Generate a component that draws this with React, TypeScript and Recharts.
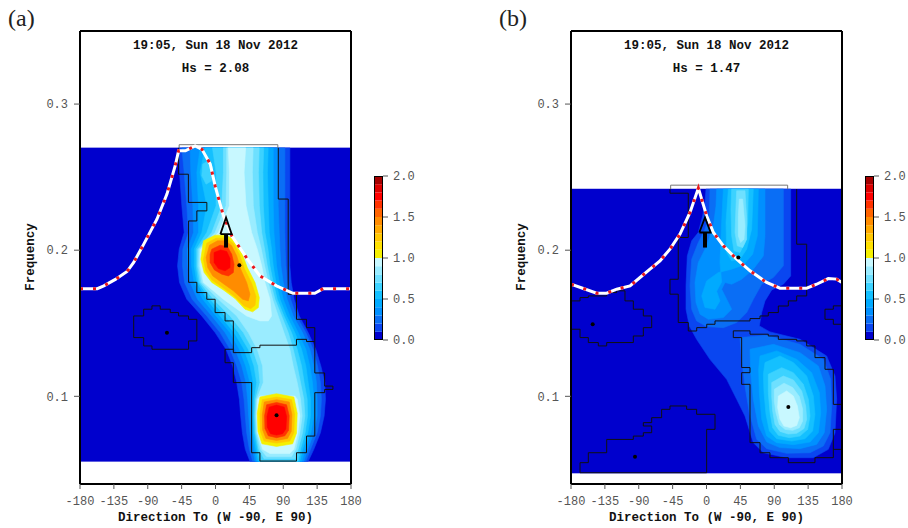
import {
  ComposedChart,
  Line,
  Scatter,
  XAxis,
  YAxis,
  BarChart,
  Bar,
} from "recharts";

type Pt = { dir: number; f: number | null };
type Shape = { lv: number; pts: Pt[] };

const mono = '"Liberation Mono", "DejaVu Sans Mono", monospace';

const dirTicks = [-180, -135, -90, -45, 0, 45, 90, 135, 180];
const freqTicks = [0.1, 0.2, 0.3];
const levelBounds = [
  0, 0.1, 0.2, 0.3, 0.4, 0.5, 0.6, 0.7, 0.8, 0.9, 1.0, 1.1, 1.2, 1.3, 1.4,
  1.5, 1.6, 1.7, 1.8, 1.9, 2.0,
];
const cbTicks = [0, 0.5, 1, 1.5, 2];
const levelColors = [
  "#0000cd", "#0a46f0", "#0a6ef5", "#0090ff", "#00aaff", "#14c0ff",
  "#3cd2ff", "#6ee0ff", "#9aecff", "#c8f8ff", "#f5f000", "#ffe100",
  "#ffc800", "#ffaa00", "#ff8c00", "#ff6400", "#ff3200", "#ff0000",
  "#dc0000", "#a50000",
];

// contour bands: [freq, dir left, dir right], top to bottom
function band(rows: number[][]): Pt[] {
  const left = rows.map((r) => ({ dir: r[1], f: r[0] }));
  const right = rows
    .slice()
    .reverse()
    .map((r) => ({ dir: r[2], f: r[0] }));
  return [...left, ...right];
}
function ring(list: number[][]): Pt[] {
  return list.map((p) => ({ dir: p[0], f: p[1] }));
}

// ---------------- panel (a) ----------------
const bgA = [[0.27, -180, 180], [0.0555, -180, 180]];
const aLv1 = [
  [0.27, -49.1, 98.8], [0.2532, -47.8, 98.8], [0.2304, -44.7, 98.8], [0.2121, -41.6, 98.8],
  [0.2007, -48.2, 98.8], [0.1893, -50.4, 98.8], [0.1779, -47.8, 100.6], [0.1664, -38.1, 104.5],
  [0.155, -18.2, 111.2], [0.1436, -0.5, 123.1], [0.1322, 14, 133.2], [0.1208, 22.9, 139.9],
  [0.1094, 28.2, 145.2], [0.098, 31.7, 146.1], [0.0865, 33.5, 144.3], [0.0751, 35.7, 139.4],
  [0.0637, 39.6, 130.6], [0.0555, 45.8, 123.1],
];
const aLv2 = [
  [0.27, -44.7, 92.2], [0.2532, -41.6, 92.2], [0.2304, -38.1, 92.2], [0.2121, -35.9, 92.2],
  [0.2007, -43.4, 92.6], [0.1893, -43.8, 93.5], [0.1779, -41.1, 95.3], [0.1664, -31, 99.7],
  [0.155, -11.6, 107.6], [0.1436, 6.1, 120], [0.1322, 19.3, 129.7], [0.1208, 28.2, 135.5],
  [0.1094, 34.8, 139.4], [0.098, 37.9, 140.7], [0.0865, 39.6, 139.4], [0.0751, 41.4, 135],
  [0.0637, 45, 126.2], [0.0555, 49.4, 120],
];
const aLv3 = [
  [0.27, -33.7, 83.3], [0.2532, -32.8, 83.3], [0.2304, -30.1, 83.3], [0.2121, -29.2, 84.7],
  [0.2007, -37.2, 85.6], [0.1893, -36.7, 86.9], [0.1779, -33.7, 90], [0.1664, -23.9, 95.3],
  [0.155, -4.9, 103.2], [0.1436, 12.7, 115.6], [0.1322, 25.9, 125.3], [0.1208, 34.8, 130.6],
  [0.1094, 40.5, 134.1], [0.098, 42.7, 135], [0.0865, 44.1, 135], [0.0751, 45.8, 130.6],
  [0.0637, 48.9, 122.7], [0.0555, 52.5, 117.3],
];
const aLv4 = [
  [0.27, -20.4, 76.7], [0.2532, -24.8, 76.7], [0.2304, -22.6, 76.7], [0.2121, -22.6, 77.6],
  [0.2007, -32.3, 79.4], [0.1893, -31.9, 81.1], [0.1779, -28.3, 84.7], [0.1664, -16.9, 90],
  [0.155, 0.8, 98.8], [0.1436, 19.3, 109.8], [0.1322, 31.7, 120], [0.1208, 40.1, 125.3],
  [0.1094, 45.8, 128.8], [0.098, 46.7, 130.6], [0.0865, 47.2, 130.6], [0.0751, 48.5, 126.6],
  [0.0637, 51.6, 119.1], [0.0555, 54.7, 114.7],
];
const aLv5 = [
  [0.27, -14, 70], [0.2532, -20.4, 69], [0.2304, -11.6, 70.1], [0.2121, -18.2, 71.4],
  [0.2007, -28.3, 74.5], [0.1893, -28.3, 76.7], [0.1779, -24.8, 80.3], [0.1664, -11.6, 85.6],
  [0.155, 6.1, 94.4], [0.1436, 24.6, 105.4], [0.1322, 37.9, 114.3], [0.1208, 45.8, 120],
  [0.1094, 50.2, 123.1], [0.098, 49.4, 126.2], [0.0865, 49.4, 126.2], [0.0751, 50.2, 122.7],
  [0.0637, 53.8, 115.6], [0.0555, 56.9, 112],
];
const aLv6 = [
  [0.27, -4, 64], [0.2532, 0.8, 63], [0.2304, 0.8, 63.5], [0.2121, -11.6, 65.7],
  [0.2007, -25.7, 69.7], [0.1893, -25.7, 72.3], [0.1779, -22.6, 76.7], [0.1664, -7.2, 82],
  [0.155, 12.7, 90.9], [0.1436, 30.4, 101], [0.1322, 43.6, 108.5], [0.1208, 51.1, 114.3],
  [0.1094, 54.7, 117.8], [0.098, 51.6, 121.8], [0.0865, 51.1, 122.2], [0.0751, 52, 119.1],
  [0.0637, 56, 112.9], [0.0555, 59.1, 109.8],
];
const aSpot6 = [
  [-16.9, 0.2589], [-9.4, 0.2612], [-3.6, 0.2566], [-4.9, 0.2475], [-12.5, 0.2452], [-18.2, 0.2509],
];
const aLv7 = [
  [0.27, 10.5, 58], [0.2532, 10.5, 57], [0.2304, 8.3, 58.2], [0.2121, -4.9, 61.3],
  [0.2007, -23.5, 65.2], [0.1893, -23.9, 68.8], [0.1779, -20.4, 73.2], [0.1664, -2.7, 78.9],
  [0.155, 19.3, 87.8], [0.1436, 37, 96.6], [0.1322, 49.4, 103.2], [0.1208, 56.9, 108.5],
  [0.1094, 59.1, 112.9], [0.098, 53.3, 117.3], [0.0865, 52.5, 118.7], [0.0751, 53.3, 115.6],
  [0.0637, 57.7, 109.8], [0.0573, 64.4, 105.9],
];
const aLv8 = [
  [0.27, 14.9, 50], [0.2532, 14.9, 49], [0.2304, 14, 50.2], [0.2121, -0.5, 55.5],
  [0.2007, -21.7, 60.8], [0.1893, -22.2, 65.2], [0.1779, -18.2, 70.1], [0.1664, 3.9, 75.8],
  [0.155, 28.2, 83.3], [0.1436, 43.6, 90.9], [0.1322, 55.5, 98.8], [0.1208, 62.6, 103.2],
  [0.1094, 63.5, 108.5], [0.098, 54.7, 112.9], [0.0865, 53.8, 115.1], [0.0751, 54.7, 112],
  [0.0637, 60, 106.7], [0.0589, 67.9, 101],
];
const aLv9Upper = [
  [0.27, 17, 40], [0.2532, 18.5, 38], [0.2304, 18.5, 40.5], [0.2121, 3.9, 48],
  [0.2007, -19.9, 55.5], [0.1893, -20.4, 61.3], [0.1779, -16, 65.7], [0.1664, 10.5, 72.3],
  [0.155, 41.4, 74.5], [0.1516, 59.1, 70.1],
];
const aLv9Lower = [
  [0.1002, 59.1, 105.4], [0.098, 56, 108.5], [0.0865, 54.7, 112], [0.0751, 56, 109.4],
  [0.0637, 62.6, 104.1], [0.0609, 72.3, 98.8],
];
// upper spectral peak, rings [dir, freq]
const aPk1Lv10 = [
  [-16, 0.2064], [-0.5, 0.2103], [14.9, 0.2103], [25.9, 0.2064], [34.8, 0.1984], [42.3, 0.1881],
  [52.5, 0.1779], [58.2, 0.1676], [56.9, 0.1607], [49.4, 0.1578], [39.2, 0.1596], [25.9, 0.1669],
  [10.5, 0.1728], [-4.9, 0.1779], [-15.1, 0.1847], [-19.5, 0.1938],
];
const aPk1Lv12 = [
  [-11.6, 0.2048], [0.8, 0.2082], [14, 0.2082], [23.7, 0.2046], [31.7, 0.1973], [38.3, 0.1874],
  [48, 0.1774], [53.8, 0.1683], [52.5, 0.1623], [46.7, 0.16], [37.9, 0.1619], [24.6, 0.1687],
  [9.6, 0.1744], [-4.9, 0.1797], [-12.9, 0.1858], [-16, 0.1938],
];
const aPk1Lv14 = [
  [-8, 0.2034], [2.6, 0.2064], [13.2, 0.2064], [21.5, 0.203], [28.2, 0.1961], [33.5, 0.187],
  [41.4, 0.1779], [45.8, 0.1699], [43.6, 0.1653], [36.1, 0.1664], [23.7, 0.1722], [9.6, 0.1774],
  [-3.6, 0.1824], [-10.3, 0.1881], [-12.5, 0.195],
];
const aPk1Lv16 = [
  [-4.9, 0.2007], [6.1, 0.2034], [15.8, 0.2025], [21.5, 0.1973], [24.6, 0.1904], [23.7, 0.1847],
  [17.1, 0.1824], [8.3, 0.1836], [-1.4, 0.1865], [-7.2, 0.1916], [-7.2, 0.1973],
];
const aPk1Lv17 = [
  [-1.9, 0.1984], [7, 0.2002], [14.9, 0.1991], [19.3, 0.1943], [19.3, 0.1881], [12.7, 0.1859],
  [3.9, 0.1874], [-1.9, 0.1916],
];
// lower spectral peak
const aPk2Lv10 = [
  [59.1, 0.0995], [81.1, 0.1018], [104.1, 0.0995], [108.5, 0.0885], [107.6, 0.0748], [102.4, 0.0675],
  [81.1, 0.0657], [61.7, 0.0675], [56.4, 0.076], [55.5, 0.0885],
];
const aPk2Lv12 = [
  [62.2, 0.0977], [81.1, 0.0995], [101, 0.0977], [105, 0.088], [104.1, 0.0753], [98.8, 0.0694],
  [81.1, 0.068], [64.4, 0.0694], [59.5, 0.0764], [59.1, 0.088],
];
const aPk2Lv14 = [
  [64.8, 0.0961], [81.1, 0.0977], [97.9, 0.0961], [101.5, 0.0874], [100.6, 0.076], [95.7, 0.0712],
  [81.1, 0.0698], [67, 0.0712], [62.6, 0.0771], [62.2, 0.0874],
];
const aPk2Lv16 = [
  [67.9, 0.0942], [81.1, 0.0958], [94.4, 0.0942], [97.9, 0.0867], [97, 0.0767], [92.2, 0.073],
  [81.1, 0.0717], [70.1, 0.073], [65.7, 0.078], [65.2, 0.0867],
];
const aPk2Lv17 = [
  [71.4, 0.0926], [81.1, 0.094], [91.3, 0.0926], [94.4, 0.0862], [93.5, 0.0776], [89.1, 0.0744],
  [81.1, 0.0735], [73.2, 0.0744], [68.8, 0.0789], [68.4, 0.0862],
];

const shapesA: Shape[] = [
  { lv: 0, pts: band(bgA) },
  { lv: 1, pts: band(aLv1) },
  { lv: 2, pts: band(aLv2) },
  { lv: 3, pts: band(aLv3) },
  { lv: 4, pts: band(aLv4) },
  { lv: 5, pts: band(aLv5) },
  { lv: 6, pts: band(aLv6) },
  { lv: 6, pts: ring(aSpot6) },
  { lv: 7, pts: band(aLv7) },
  { lv: 8, pts: band(aLv8) },
  { lv: 9, pts: band(aLv9Upper) },
  { lv: 9, pts: band(aLv9Lower) },
  { lv: 10, pts: ring(aPk1Lv10) },
  { lv: 12, pts: ring(aPk1Lv12) },
  { lv: 14, pts: ring(aPk1Lv14) },
  { lv: 16, pts: ring(aPk1Lv16) },
  { lv: 17, pts: ring(aPk1Lv17) },
  { lv: 10, pts: ring(aPk2Lv10) },
  { lv: 12, pts: ring(aPk2Lv12) },
  { lv: 14, pts: ring(aPk2Lv14) },
  { lv: 16, pts: ring(aPk2Lv16) },
  { lv: 17, pts: ring(aPk2Lv17) },
];

const boxA: Pt[] = [
  { dir: -48.3, f: 0.27 }, { dir: -48.3, f: 0.2722 },
  { dir: 82.8, f: 0.2722 }, { dir: 82.8, f: 0.27 },
];
const windSeaA: Pt[] = ring([
  [-180, 0.1737], [-157, 0.1737], [-148.4, 0.1756], [-133, 0.18], [-117.5, 0.1854],
  [-108.7, 0.1916], [-95.5, 0.204], [-77.8, 0.2212], [-64.5, 0.2384], [-53.5, 0.2578],
  [-49, 0.268], [-40, 0.268], [-27, 0.2714], [-18, 0.269], [-7, 0.259], [-0.5, 0.244],
  [10.5, 0.2235], [21.6, 0.2098], [41.5, 0.1946], [59, 0.1824], [81, 0.1756],
  [103, 0.1705], [131.9, 0.1705], [143, 0.1737], [180, 0.1737],
]);
const partA1: Pt[] = ring([
  [-49, 0.27], [-49, 0.252], [-36, 0.252], [-36, 0.2327], [-11.5, 0.2327], [-11.5, 0.2269],
  [-24.8, 0.2269], [-24.8, 0.22], [-35.8, 0.22], [-35.8, 0.178], [-24.8, 0.178], [-24.8, 0.171],
  [-11.6, 0.171], [-11.6, 0.1664], [-0.5, 0.1664], [-0.5, 0.1573], [12.7, 0.1573], [12.7, 0.1516],
  [23.7, 0.1516], [23.7, 0.1299], [48, 0.1299], [48, 0.1333], [59, 0.1333], [59, 0.135],
  [107.6, 0.135], [107.6, 0.139], [120.9, 0.139], [120.9, 0.1375], [131.9, 0.1375], [131.9, 0.147],
  [120.9, 0.147], [120.9, 0.1527], [107.6, 0.1527], [107.6, 0.1698], [96.6, 0.1698], [96.6, 0.235],
  [83.4, 0.235], [83.4, 0.27],
]);
const partA2: Pt[] = ring([
  [23.7, 0.1322], [12.7, 0.1322], [12.7, 0.123], [23.7, 0.123], [23.7, 0.1094], [48, 0.1094],
  [48, 0.0614], [59, 0.0614], [59, 0.0557], [107.6, 0.0557], [107.6, 0.0614], [120.9, 0.0614],
  [120.9, 0.0728], [131.9, 0.0728], [131.9, 0.1025], [145, 0.1025], [145, 0.1047], [156, 0.1047],
  [156, 0.107], [145, 0.107], [145, 0.116], [131.9, 0.116], [131.9, 0.1375],
]);
const partA3: Pt[] = ring([
  [-108.7, 0.155], [-95.4, 0.155], [-95.4, 0.1596], [-84.4, 0.1596], [-84.4, 0.1619], [-73.4, 0.1619],
  [-73.4, 0.1596], [-60.1, 0.1596], [-60.1, 0.1573], [-49.1, 0.1573], [-49.1, 0.155], [-35.8, 0.155],
  [-35.8, 0.1527], [-24.8, 0.1527], [-24.8, 0.1379], [-35.8, 0.1379], [-35.8, 0.1322], [-84.4, 0.1322],
  [-84.4, 0.1345], [-95.4, 0.1345], [-95.4, 0.1402], [-108.7, 0.1402], [-108.7, 0.155],
]);
const peaksA: Pt[] = ring([[31.7, 0.1897], [81.1, 0.087], [-64.5, 0.1435]]);
const shaftA: Pt[] = ring([[14, 0.2018], [14, 0.211]]);
const headA: Pt[] = ring([[6.5, 0.211], [14, 0.2224], [21.5, 0.211], [6.5, 0.211]]);

// ---------------- panel (b) ----------------
const bgB = [[0.2418, -180, 180], [0.0475, -180, 180]];
const bLv1 = [
  [-0.7, 0.2418], [111.8, 0.2418], [111.8, 0.1824], [102.1, 0.1767], [86.6, 0.1728], [77.7, 0.1653],
  [73.3, 0.1573], [70.2, 0.1482], [84.3, 0.1441], [124.2, 0.139], [159.6, 0.1276], [170.7, 0.1139],
  [172.9, 0.098], [170.7, 0.0751], [161.8, 0.0637], [141.9, 0.058], [106.5, 0.058], [75.5, 0.0614],
  [62.2, 0.0683], [51.1, 0.0866], [40.1, 0.098], [26.8, 0.1116], [4.6, 0.1253], [-13.1, 0.139],
  [-22.8, 0.1482], [-27.2, 0.1596], [-27.2, 0.1756], [-25.5, 0.1961], [-19.7, 0.2064],
  [-10.9, 0.2121], [-5.1, 0.2235], [-2, 0.2326],
];
const bLv2Upper = [
  [4.6, 0.2418], [102.1, 0.2418], [102.1, 0.1893], [88.8, 0.1813], [73.3, 0.1767], [62.2, 0.1664],
  [53.4, 0.1573], [40.1, 0.1505], [22.4, 0.147], [0.2, 0.1477], [-13.1, 0.1516], [-19.7, 0.1596],
  [-21.9, 0.1756], [-19.7, 0.1938], [-10.9, 0.2052], [-2, 0.2144], [3.8, 0.2235],
];
const bLv3Upper = [
  [13.5, 0.2418], [77.7, 0.2418], [77.7, 0.2098], [75.5, 0.1961], [62.2, 0.187], [46.7, 0.1801],
  [33.4, 0.1767], [24.6, 0.1779], [20.1, 0.1733], [26.8, 0.1664], [33.4, 0.1596], [22.4, 0.1539],
  [2.4, 0.1527], [-8.6, 0.1562], [-14, 0.1642], [-15.3, 0.1779], [-10.9, 0.1916], [0.2, 0.203],
  [9.1, 0.2167], [12.6, 0.2303],
];
const bLv4Upper = [
  [22.4, 0.2418], [68.9, 0.2418], [67.5, 0.2098], [61.3, 0.1973], [48.9, 0.1898], [33.4, 0.187],
  [15.7, 0.1847], [0.2, 0.179], [-6.4, 0.1687], [-2, 0.1608], [11.3, 0.1596], [17.9, 0.1653],
  [13.5, 0.1719], [20.1, 0.1783], [17.9, 0.1916], [20.1, 0.2189],
];
const bLv5Upper = [
  [29, 0.2418], [62.2, 0.2418], [60, 0.2144], [53.4, 0.2007], [44.5, 0.1938], [33.4, 0.1927],
  [26.8, 0.1984], [25.9, 0.2189],
];
const bLv6Upper = [
  [33.4, 0.2418], [55.6, 0.2418], [54.7, 0.2189], [51.1, 0.2052], [44.5, 0.1984], [36.5, 0.1996],
  [33.4, 0.2098], [32.5, 0.2281],
];
const bLv7Upper = [
  [40.1, 0.2407], [51.1, 0.2407], [53.4, 0.2212], [53.4, 0.2075], [48, 0.2018], [40.9, 0.203],
  [37.9, 0.2121], [39.2, 0.2303],
];
const bLv8Upper = [
  [43.6, 0.235], [48, 0.235], [51.1, 0.2167], [49.8, 0.2075], [45.4, 0.2052], [42.3, 0.2098],
  [42.3, 0.2235],
];
const bLv2Lower = [
  [44.5, 0.1402], [79.9, 0.1418], [124.2, 0.1356], [155.2, 0.1253], [164.9, 0.1117], [166.3, 0.0934],
  [164.1, 0.0751], [155.2, 0.066], [137.5, 0.0614], [106.5, 0.061], [79.9, 0.0642], [66.6, 0.0706],
  [56.9, 0.0888], [51.1, 0.1071], [46.7, 0.1253],
];
const bLv3Lower = [
  [57.8, 0.1322], [88.8, 0.1356], [124.2, 0.1299], [148.6, 0.1208], [157.4, 0.1071], [159.6, 0.0911],
  [156.5, 0.0751], [146.3, 0.0671], [124.2, 0.0642], [97.6, 0.0649], [79.9, 0.0687], [68.9, 0.0797],
  [62.2, 0.098], [58.7, 0.1162],
];
const bLv4Lower = [
  [71.1, 0.1276], [93.2, 0.1311], [119.8, 0.1253], [139.7, 0.1162], [149.9, 0.1025], [151.7, 0.0888],
  [148.6, 0.0751], [137.5, 0.0687], [115.4, 0.0669], [93.2, 0.0683], [79.9, 0.0728], [73.3, 0.0843],
  [70.2, 0.1025], [69.3, 0.1185],
];
const bLv5Lower = [
  [77.7, 0.1231], [97.6, 0.1276], [115.4, 0.1231], [133.1, 0.1139], [141.9, 0.1002], [144.1, 0.0877],
  [141, 0.0763], [130.9, 0.071], [113.1, 0.0694], [93.2, 0.071], [83.5, 0.0763], [79, 0.0877],
  [76.4, 0.1025], [75.5, 0.1151],
];
const bLv6Lower = [
  [82.1, 0.1151], [99.9, 0.1196], [115.4, 0.1162], [128.6, 0.1082], [135.3, 0.098], [137.5, 0.0865],
  [134.4, 0.0774], [124.2, 0.0728], [110, 0.0717], [95.4, 0.0733], [87.9, 0.0785], [84.4, 0.0888],
  [82.1, 0.1025],
];
const bLv7Lower = [
  [86.6, 0.1094], [102.1, 0.1139], [115.4, 0.1112], [126.4, 0.1037], [131.7, 0.0934], [133.1, 0.0843],
  [129.5, 0.0779], [119.8, 0.0747], [108.7, 0.0742], [97.6, 0.076], [91, 0.0808], [87.9, 0.09],
  [86.6, 0.1002],
];
const bLv8Lower = [
  [90.1, 0.1048], [102.9, 0.109], [114.5, 0.106], [123.3, 0.0998], [127.7, 0.0911], [127.7, 0.0831],
  [123.3, 0.0785], [114.5, 0.0767], [104.3, 0.0774], [96.7, 0.0808], [92.3, 0.0888], [90.1, 0.0968],
];
const bLv9Lower = [
  [95.4, 0.1002], [106.5, 0.1037], [115.4, 0.1002], [120.7, 0.0934], [123.3, 0.0854], [119.8, 0.0801],
  [111.8, 0.0785], [102.9, 0.0797], [97.6, 0.0843], [94.5, 0.0923],
];

const shapesB: Shape[] = [
  { lv: 0, pts: band(bgB) },
  { lv: 1, pts: ring(bLv1) },
  { lv: 2, pts: ring(bLv2Upper) },
  { lv: 3, pts: ring(bLv3Upper) },
  { lv: 4, pts: ring(bLv4Upper) },
  { lv: 5, pts: ring(bLv5Upper) },
  { lv: 6, pts: ring(bLv6Upper) },
  { lv: 7, pts: ring(bLv7Upper) },
  { lv: 8, pts: ring(bLv8Upper) },
  { lv: 2, pts: ring(bLv2Lower) },
  { lv: 3, pts: ring(bLv3Lower) },
  { lv: 4, pts: ring(bLv4Lower) },
  { lv: 5, pts: ring(bLv5Lower) },
  { lv: 6, pts: ring(bLv6Lower) },
  { lv: 7, pts: ring(bLv7Lower) },
  { lv: 8, pts: ring(bLv8Lower) },
  { lv: 9, pts: ring(bLv9Lower) },
];

const boxB: Pt[] = ring([[-47.6, 0.2418], [-47.6, 0.2445], [107.8, 0.2445], [107.8, 0.2418]]);
const windSeaB: Pt[] = ring([
  [-180, 0.1767], [-163.6, 0.1738], [-145.9, 0.1706], [-132.6, 0.1706], [-119.3, 0.1733],
  [-101.6, 0.1756], [-88.3, 0.1813], [-75.1, 0.187], [-61.8, 0.1927], [-48.5, 0.2007],
  [-35.2, 0.211], [-21.9, 0.2258], [-10.8, 0.2425], [0.2, 0.2235], [9.1, 0.2121], [22.4, 0.203],
  [40.1, 0.1938], [57.8, 0.1859], [79.9, 0.1779], [97.6, 0.174], [133.1, 0.174], [146.3, 0.1767],
  [161.8, 0.1806], [172.9, 0.1802], [180, 0.1779],
]);
const partB1: Pt[] = ring([
  [-48.5, 0.2418], [-48.5, 0.239], [-24.2, 0.239], [-24.2, 0.2087], [-37.5, 0.2087], [-37.5, 0.1801],
  [-48.5, 0.1801], [-48.5, 0.1699], [-37.5, 0.1699], [-37.5, 0.1505], [-24.2, 0.1505], [-24.2, 0.1447],
  [-13, 0.1447], [-13, 0.147], [0.3, 0.147], [0.3, 0.1493], [11.3, 0.1493], [11.3, 0.1516],
  [57.8, 0.1516], [57.8, 0.1532], [71.1, 0.1532], [71.1, 0.155], [82.1, 0.155], [82.1, 0.1573],
  [95.4, 0.1573], [95.4, 0.1618], [108.7, 0.1618], [108.7, 0.1653], [119.8, 0.1653], [119.8, 0.1687],
  [133.1, 0.1687], [133.1, 0.2041], [119.8, 0.2041], [119.8, 0.2418],
]);
const partB2: Pt[] = ring([
  [180, 0.0945], [168.5, 0.0945], [168.5, 0.1185], [157.4, 0.1185], [157.4, 0.1265], [144.1, 0.1265],
  [144.1, 0.1345], [133.1, 0.1345], [133.1, 0.1379], [119.8, 0.1379], [119.8, 0.139], [95.4, 0.139],
  [95.4, 0.1413], [82.1, 0.1413], [82.1, 0.1425], [57.8, 0.1425], [57.8, 0.1448], [35.6, 0.1448],
  [35.6, 0.1402], [46.7, 0.1402], [46.7, 0.1197], [57.8, 0.1197], [57.8, 0.1162], [46.7, 0.1162],
  [46.7, 0.1082], [57.8, 0.1082], [57.8, 0.0683], [71.1, 0.0683], [71.1, 0.0614], [84.3, 0.0614],
  [84.3, 0.058], [108.7, 0.058], [108.7, 0.0546], [144.1, 0.0546], [144.1, 0.058], [168.5, 0.058],
  [168.5, 0.0637], [180, 0.0637],
]);
const partB3: Pt[] = ring([[180, 0.0774], [168.5, 0.0774], [168.5, 0.0637]]);
const partB4: Pt[] = ring([
  [-180, 0.1653], [-168, 0.1653], [-168, 0.1676], [-157, 0.1676], [-157, 0.1687], [-132.6, 0.1687],
  [-132.6, 0.171], [-119.3, 0.171], [-119.3, 0.1722], [-108.3, 0.1722], [-108.3, 0.1653], [-97.2, 0.1653],
  [-97.2, 0.1596], [-83.9, 0.1596], [-83.9, 0.155], [-72.8, 0.155], [-72.8, 0.147], [-83.9, 0.147],
  [-83.9, 0.1413], [-97.2, 0.1413], [-97.2, 0.1368], [-132.6, 0.1368], [-132.6, 0.1345], [-143.7, 0.1345],
  [-143.7, 0.1368], [-157, 0.1368], [-157, 0.1402], [-168, 0.1402], [-168, 0.1459], [-180, 0.1459],
]);
const partB5: Pt[] = ring([
  [180, 0.1619], [168.5, 0.1619], [168.5, 0.1596], [157.4, 0.1596], [157.4, 0.1527], [168.5, 0.1527],
  [168.5, 0.1493], [180, 0.1493],
]);
const partB6: Pt[] = ring([
  [-168, 0.0477], [-168, 0.0546], [-157, 0.0546], [-157, 0.0614], [-132.6, 0.0614], [-132.6, 0.0705],
  [-97.2, 0.0705], [-97.2, 0.0728], [-83.9, 0.0728], [-83.9, 0.0751], [-72.8, 0.0751], [-72.8, 0.0797],
  [-83.9, 0.0797], [-83.9, 0.082], [-72.8, 0.082], [-72.8, 0.0854], [-59.6, 0.0854], [-59.6, 0.0911],
  [-48.5, 0.0911], [-48.5, 0.0934], [-26.4, 0.0934], [-26.4, 0.0911], [-13.1, 0.0911], [-13.1, 0.0877],
  [11.3, 0.0877], [11.3, 0.0774], [0.2, 0.0774], [0.2, 0.0477], [-168, 0.0477],
]);
const peaksB: Pt[] = ring([[42.3, 0.195], [108.7, 0.0927], [-151.2, 0.1493], [-95, 0.0587]]);
const shaftB: Pt[] = ring([[-2, 0.2018], [-2, 0.2121]]);
const headB: Pt[] = ring([[-9.5, 0.2121], [-2, 0.2224], [5.5, 0.2121], [-9.5, 0.2121]]);

type PanelProps = {
  left: number;
  tag: string;
  hs: string;
  shapes: Shape[];
  box: Pt[];
  windSea: Pt[];
  partitions: Pt[][];
  peaks: Pt[];
  shaft: Pt[];
  head: Pt[];
};

const axisLine = { stroke: "#000", strokeWidth: 2 };
const tickLine = { stroke: "#555" };
const tickText = { fontFamily: mono, fontSize: 12, fill: "#555" };

const filledContour = (color: string) => (lp: any) => {
  const pts = (lp.points || []) as { x: number; y: number }[];
  if (!pts.length) return <g />;
  const d = pts.map((q, i) => `${i ? "L" : "M"}${q.x},${q.y}`).join("") + "Z";
  return <path d={d} fill={color} stroke={color} strokeWidth={0.6} />;
};
const noMarker = () => <g />;

function SpectrumPanel(p: PanelProps) {
  return (
    <div style={{ position: "absolute", left: p.left, top: 0, width: 371, height: 528 }}>
      <ComposedChart width={371} height={528} margin={{ top: 0, right: 0, bottom: 0, left: 0 }}>
        {p.shapes.map((s, i) => (
          <Scatter
            key={"s" + i}
            data={s.pts}
            isAnimationActive={false}
            line={filledContour(levelColors[s.lv])}
            shape={noMarker}
            zIndex={10}
          />
        ))}
        <Line data={p.box} dataKey="f" stroke="#777" strokeWidth={1} dot={false} isAnimationActive={false} />
        {p.partitions.map((part, i) => (
          <Line
            key={"p" + i}
            data={part}
            dataKey="f"
            stroke="#111"
            strokeWidth={1}
            dot={false}
            isAnimationActive={false}
          />
        ))}
        <Line data={p.windSea} dataKey="f" stroke="#fff" strokeWidth={3} dot={false} isAnimationActive={false} />
        <Line
          data={p.windSea}
          dataKey="f"
          stroke="#e8161b"
          strokeWidth={3}
          strokeDasharray="3 10"
          dot={false}
          isAnimationActive={false}
        />
        <Line data={p.shaft} dataKey="f" stroke="#000" strokeWidth={4} dot={false} isAnimationActive={false} />
        <Line data={p.head} dataKey="f" stroke="#000" strokeWidth={1.8} dot={false} isAnimationActive={false} />
        <Scatter
          data={p.peaks}
          isAnimationActive={false}
          shape={(s: any) => <circle cx={s.cx} cy={s.cy} r={2} fill="#000" />}
        />
        <XAxis
          type="number"
          dataKey="dir"
          domain={[-180, 180]}
          ticks={dirTicks}
          allowDataOverflow
          height={44}
          tickSize={5}
          tickMargin={7}
          tick={tickText}
          axisLine={axisLine}
          tickLine={tickLine}
        />
        <XAxis
          xAxisId="top"
          orientation="top"
          type="number"
          domain={[-180, 180]}
          ticks={dirTicks}
          allowDataOverflow
          height={31}
          tickSize={5}
          tick={false}
          axisLine={axisLine}
          tickLine={tickLine}
        />
        <YAxis
          type="number"
          dataKey="f"
          domain={[0.04, 0.35]}
          ticks={freqTicks}
          allowDataOverflow
          width={80}
          tickSize={6}
          tickMargin={6}
          tickFormatter={(v: number) => v.toFixed(1)}
          tick={tickText}
          axisLine={axisLine}
          tickLine={tickLine}
        />
        <YAxis
          yAxisId="right"
          orientation="right"
          type="number"
          domain={[0.04, 0.35]}
          ticks={freqTicks}
          allowDataOverflow
          width={20}
          tickSize={6}
          tick={false}
          axisLine={axisLine}
          tickLine={tickLine}
        />
      </ComposedChart>
      <div
        style={{
          position: "absolute",
          left: 80,
          width: 271,
          top: 38,
          textAlign: "center",
          fontFamily: mono,
          fontWeight: "bold",
          fontSize: 12.5,
          lineHeight: "16px",
          color: "#111",
        }}
      >
        <div>19:05, Sun 18 Nov 2012</div>
        <div style={{ marginTop: 7 }}>Hs = {p.hs}</div>
      </div>
      <div
        style={{
          position: "absolute",
          left: 31,
          top: 257,
          transform: "translate(-50%, -50%) rotate(-90deg)",
          fontFamily: mono,
          fontWeight: "bold",
          fontSize: 12.5,
          whiteSpace: "nowrap",
          color: "#111",
        }}
      >
        Frequency
      </div>
      <div
        style={{
          position: "absolute",
          left: 80,
          width: 271,
          top: 510,
          textAlign: "center",
          fontFamily: mono,
          fontWeight: "bold",
          fontSize: 12.5,
          lineHeight: "16px",
          whiteSpace: "nowrap",
          color: "#111",
        }}
      >
        Direction To (W -90, E 90)
      </div>
      <div
        style={{
          position: "absolute",
          left: 8,
          top: 4,
          fontFamily: '"Liberation Serif", serif',
          fontSize: 24,
          lineHeight: "28px",
          color: "#222",
        }}
      >
        {p.tag}
      </div>
    </div>
  );
}

function ColorBar({ left }: { left: number }) {
  const row: Record<string, number | string> = { k: "cb" };
  levelColors.forEach((_, i) => {
    row["l" + i] = levelBounds[i + 1] - levelBounds[i];
  });
  return (
    <div style={{ position: "absolute", left, top: 166, width: 60, height: 184 }}>
      <BarChart
        width={60}
        height={184}
        data={[row]}
        margin={{ top: 10, right: 0, bottom: 10, left: 0 }}
        barCategoryGap={0}
      >
        <XAxis dataKey="k" hide />
        <YAxis
          orientation="right"
          type="number"
          domain={[0, 2]}
          ticks={cbTicks}
          width={51}
          tickSize={5}
          tickMargin={5}
          tickFormatter={(v: number) => v.toFixed(1)}
          tick={tickText}
          axisLine={false}
          tickLine={tickLine}
        />
        {levelColors.map((c, i) => (
          <Bar key={i} dataKey={"l" + i} stackId="s" fill={c} isAnimationActive={false} />
        ))}
      </BarChart>
      <div
        style={{
          position: "absolute",
          left: 0,
          top: 10,
          width: 9,
          height: 164,
          border: "1px solid #000",
          boxSizing: "border-box",
        }}
      />
    </div>
  );
}

export default function App() {
  return (
    <div style={{ position: "absolute", left: 0, top: 0, width: 908, height: 528, background: "#fff" }}>
      <SpectrumPanel
        left={0}
        tag="(a)"
        hs="2.08"
        shapes={shapesA}
        box={boxA}
        windSea={windSeaA}
        partitions={[partA1, partA2, partA3]}
        peaks={peaksA}
        shaft={shaftA}
        head={headA}
      />
      <ColorBar left={374} />
      <SpectrumPanel
        left={491}
        tag="(b)"
        hs="1.47"
        shapes={shapesB}
        box={boxB}
        windSea={windSeaB}
        partitions={[partB1, partB2, partB3, partB4, partB5, partB6]}
        peaks={peaksB}
        shaft={shaftB}
        head={headB}
      />
      <ColorBar left={865} />
    </div>
  );
}
